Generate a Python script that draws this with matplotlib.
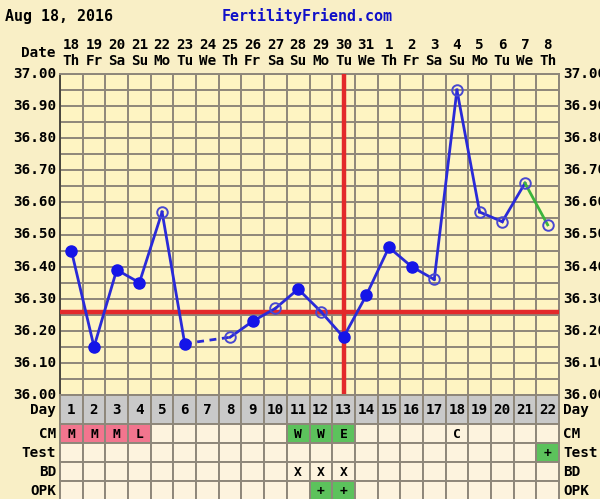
import matplotlib
matplotlib.use("Agg")
import matplotlib.pyplot as plt
from matplotlib.transforms import blended_transform_factory as blend
from matplotlib.patches import Rectangle

# ---------------- data ----------------
header_date = "Aug 18, 2016"
site_name = "FertilityFriend.com"
cycle_days = list(range(1, 23))
dates = ["18", "19", "20", "21", "22", "23", "24", "25", "26", "27", "28",
         "29", "30", "31", "1", "2", "3", "4", "5", "6", "7", "8"]
weekdays = ["Th", "Fr", "Sa", "Su", "Mo", "Tu", "We", "Th", "Fr", "Sa", "Su",
            "Mo", "Tu", "We", "Th", "Fr", "Sa", "Su", "Mo", "Tu", "We", "Th"]
temps = [36.45, 36.15, 36.39, 36.35, 36.57, 36.16, None, 36.18, 36.23, 36.27,
         36.33, 36.26, 36.18, 36.31, 36.46, 36.40, 36.36, 36.95, 36.57, 36.54,
         36.66, 36.53]
filled = [True, True, True, True, False, True, False, False, True, False,
          True, False, True, True, True, True, False, False, False, False,
          False, False]
coverline = 36.26
ovulation_day = 13
green_from_day = 21
y_ticks = [37.00, 36.90, 36.80, 36.70, 36.60, 36.50, 36.40, 36.30, 36.20,
           36.10, 36.00]
row_names = ["Day", "CM", "Test", "BD", "OPK"]
cm_marks = {1: "M", 2: "M", 3: "M", 4: "L", 11: "W", 12: "W", 13: "E", 18: "C"}
cm_kind = {1: "pink", 2: "pink", 3: "pink", 4: "pink", 11: "green", 12: "green",
           13: "green", 18: None}
test_marks = {22: "+"}
test_kind = {22: "green"}
bd_marks = {11: "X", 12: "X", 13: "X"}
bd_kind = {}
opk_marks = {12: "+", 13: "+"}
opk_kind = {12: "green", 13: "green"}

# ---------------- style ----------------
W, H = 600, 499
BG = "#F9EFC6"
PLOT_BG = "#FEF4C2"
CELL_BG = "#FDF3DE"
GRID = "#8E877A"
BLUE = "#2A2AD8"
RED = "#E3292B"
GREEN_LINE = "#3CB43C"
FILL = {"pink": "#F2758E", "green": "#5CC25C"}
DAYROW = "#C9C9C9"
FONT = "DejaVu Sans Mono"
FS = 10.3
FS_HEAD = 10.8
FS_CELL = 9.4

fig = plt.figure(figsize=(W / 100, H / 100), dpi=100, facecolor=BG)

def fx(px):
    return px / W

def fy(py):
    return 1 - py / H

left, right, top, bottom = 60, 559, 74, 395
ax = fig.add_axes([fx(left), fy(bottom), fx(right - left), (bottom - top) / H])
ax.set_facecolor(PLOT_BG)
ax.set_xlim(0.5, 22.5)
ax.set_ylim(36.0, 37.0)
ax.set_xticks([])
ax.set_yticks([])
for d in range(0, 23):
    ax.axvline(d + 0.5, color=GRID, lw=1.4, zorder=1)
for i in range(21):
    ax.axhline(36.0 + i * 0.05, color=GRID, lw=1.4, zorder=1)
for s in ax.spines.values():
    s.set_color(GRID)
    s.set_linewidth(1.4)
ax.spines["left"].set_color("#4A463E")

# coverline and ovulation line
ax.axhline(coverline, color=RED, lw=3.2, zorder=3)
ax.axvline(ovulation_day, color=RED, lw=3.2, zorder=3)

# temperature line segments
valid = [(d, t, f) for d, t, f in zip(cycle_days, temps, filled) if t is not None]
for (d0, t0, _), (d1, t1, _) in zip(valid[:-1], valid[1:]):
    ls = "--" if d1 - d0 > 1 else "-"
    col = GREEN_LINE if d0 >= green_from_day else BLUE
    ax.plot([d0, d1], [t0, t1], color=col, lw=2.0, ls=ls, zorder=4,
            dashes=(2.5, 2) if ls == "--" else (None, None))
for d, t, f in valid:
    if f:
        ax.plot(d, t, "o", ms=8, color="#1515E8", mec="#1515E8", zorder=5)
    else:
        ax.plot(d, t, "o", ms=7.6, mfc="none", mec="#4848D0", mew=1.4, zorder=5)

# overlay for texts in pixel coords
ov = fig.add_axes([0, 0, 1, 1], facecolor="none")
ov.set_xlim(0, W)
ov.set_ylim(H, 0)
ov.axis("off")

ov.text(5, 16, header_date, fontsize=FS_HEAD, fontweight="bold", family=FONT,
        color="black", ha="left", va="center")
ov.text(307, 16, site_name, fontsize=FS_HEAD, fontweight="bold", family=FONT,
        color="#1010C8", ha="center", va="center")

tx = blend(ax.transData, ov.transData)
for d, ds, wd in zip(cycle_days, dates, weekdays):
    ov.text(d, 45, ds, transform=tx, fontsize=FS, fontweight="bold",
            family=FONT, ha="center", va="center")
    ov.text(d, 61, wd, transform=tx, fontsize=FS, fontweight="bold",
            family=FONT, ha="center", va="center")
ov.text(56, 53, "Date", fontsize=FS, fontweight="bold", family=FONT,
        ha="right", va="center")

ty = blend(ov.transData, ax.transData)
for v in y_ticks:
    ov.text(56, v, f"{v:.2f}", transform=ty, fontsize=FS, fontweight="bold",
            family=FONT, ha="right", va="center")
    ov.text(563, v, f"{v:.2f}", transform=ty, fontsize=FS, fontweight="bold",
            family=FONT, ha="left", va="center")

# ---------------- bottom rows ----------------
rows = [(395, 424), (424, 443), (443, 462), (462, 481), (481, 500)]
bax = fig.add_axes([fx(left), 0, fx(right - left), (H - bottom) / H])
bax.set_xlim(0.5, 22.5)
bax.set_ylim(H, bottom)
bax.axis("off")

row_data = [None, (cm_marks, cm_kind), (test_marks, test_kind),
            (bd_marks, bd_kind), (opk_marks, opk_kind)]
for (y0, y1), name, rd in zip(rows, row_names, row_data):
    for d in cycle_days:
        if rd is None:
            fc = DAYROW
            label = str(d)
            fs = FS
        else:
            marks, kinds = rd
            kind = kinds.get(d)
            fc = FILL[kind] if kind else CELL_BG
            label = marks.get(d, "")
            fs = FS_CELL
        bax.add_patch(Rectangle((d - 0.5, y0), 1, y1 - y0, facecolor=fc,
                                edgecolor=GRID, lw=1.4, clip_on=False))
        if label:
            bax.text(d, (y0 + y1) / 2 + 0.5, label, fontsize=fs,
                     fontweight="bold", family=FONT, ha="center", va="center")
    ymid = (y0 + y1) / 2 + 0.5
    ov.text(56, ymid, name, fontsize=FS, fontweight="bold", family=FONT,
            ha="right", va="center")
    ov.text(563, ymid, name, fontsize=FS, fontweight="bold", family=FONT,
            ha="left", va="center")

fig.savefig("out.png", dpi=100, facecolor=BG)
